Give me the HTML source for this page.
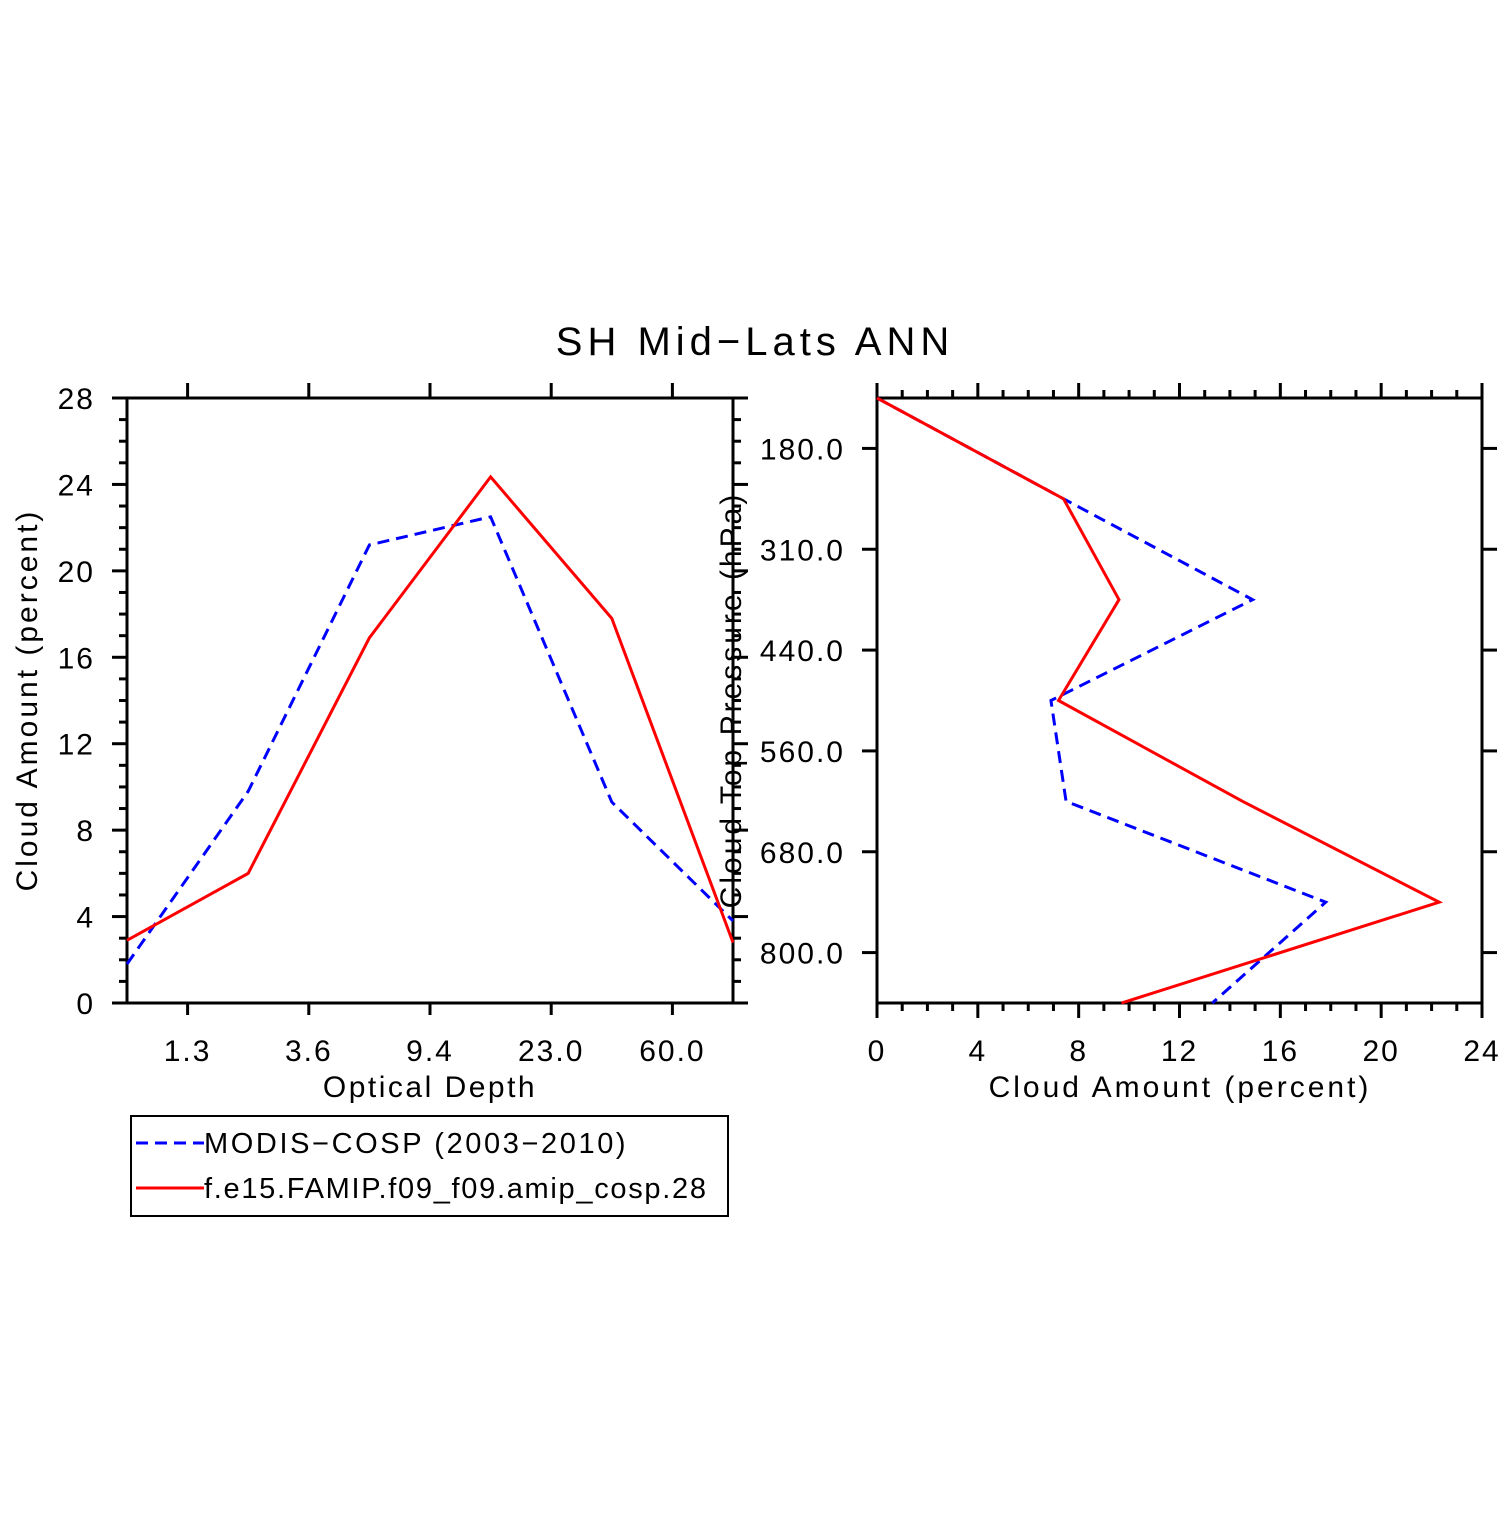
<!DOCTYPE html>
<html><head><meta charset="utf-8"><style>
html,body{margin:0;padding:0;background:#fff;}
svg text{font-family:"Liberation Sans",sans-serif;fill:#000;}
</style></head><body>
<svg id="chart" width="1510" height="1510" viewBox="0 0 1510 1510" xmlns="http://www.w3.org/2000/svg">
<text x="755" y="355" font-size="40" text-anchor="middle" letter-spacing="5">SH Mid−Lats ANN</text>
<g id="left"></g>
<g id="right"></g>
<g>
<rect x="131" y="1116" width="597" height="100" fill="none" stroke="#000" stroke-width="2"/>
<g>
<line x1="136" y1="1143" x2="204" y2="1143" stroke="#00f" stroke-width="3" stroke-dasharray="12,7"/>
<text x="204" y="1153" font-size="29" letter-spacing="2.6">MODIS−COSP (2003−2010)</text></g>
<g>
<line x1="136" y1="1188" x2="204" y2="1188" stroke="#f00" stroke-width="3"/>
<text x="204" y="1198" font-size="29" letter-spacing="1.7">f.e15.FAMIP.f09_f09.amip_cosp.28</text></g>
</g>
</svg>
<script>
// Left panel data (optical depth bins)
const tauTickLabels = ["1.3","3.6","9.4","23.0","60.0"];
const leftYTicks = [0,4,8,12,16,20,24,28];
const modisTau = [1.8, 9.8, 21.2, 22.5, 9.3, 3.8];
const modelTau = [2.9, 6.0, 16.9, 24.35, 17.8, 2.8];
// Right panel data (cloud top pressure levels)
const presTickLabels = ["180.0","310.0","440.0","560.0","680.0","800.0"];
const rightXTicks = [0,4,8,12,16,20,24];
const modisPres = [0, 7.4, 14.9, 6.9, 7.5, 17.8, 13.3];
const modelPres = [0, 7.4, 9.6, 7.2, 14.5, 22.3, 9.7];

const NS="http://www.w3.org/2000/svg";
function mk(parent,tag,attrs){const e=document.createElementNS(NS,tag);for(const k in attrs)e.setAttribute(k,attrs[k]);parent.appendChild(e);return e;}
function ln(p,x1,y1,x2,y2,w){return mk(p,'line',{x1,y1,x2,y2,stroke:'#000','stroke-width':w||3});}
const FS=30, LS=2;

// LEFT
const L=document.getElementById('left');
const lx0=127,lx1=733,ly0=1003,ly1=398;
const lX=i=>lx0+i*(lx1-lx0)/(modisTau.length-1);
const lY=v=>ly0-(v/28)*(ly0-ly1);
mk(L,'rect',{x:lx0,y:ly1,width:lx1-lx0,height:ly0-ly1,fill:'none',stroke:'#000','stroke-width':3});
for(let v=0;v<=28;v++){const y=lY(v);const major=v%4===0;ln(L,lx0-(major?15:8),y,lx0,y,3);ln(L,lx1,y,lx1+(major?15:8),y,3);}
leftYTicks.forEach(v=>{const t=mk(L,'text',{x:95,y:lY(v)+11,'font-size':FS,'text-anchor':'end','letter-spacing':LS});t.textContent=v;

});
tauTickLabels.forEach((s,i)=>{const x=lX(i+0.5);ln(L,x,ly1-15,x,ly1,3);ln(L,x,ly0,x,ly0+12,3);
const t=mk(L,'text',{x:x,y:1061,'font-size':FS,'text-anchor':'middle','letter-spacing':LS});t.textContent=s;

});
let t=mk(L,'text',{x:430,y:1097,'font-size':FS,'text-anchor':'middle','letter-spacing':2.5});t.textContent='Optical Depth';


t=mk(L,'text',{x:0,y:0,'font-size':FS,'text-anchor':'middle','letter-spacing':3,transform:'translate(37,700) rotate(-90)'});t.textContent='Cloud Amount (percent)';


let p=mk(L,'polyline',{points:modisTau.map((v,i)=>lX(i)+','+lY(v)).join(' '),fill:'none',stroke:'#00f','stroke-width':3,'stroke-dasharray':'12,7'});


p=mk(L,'polyline',{points:modelTau.map((v,i)=>lX(i)+','+lY(v)).join(' '),fill:'none',stroke:'#f00','stroke-width':3});



// RIGHT
const R=document.getElementById('right');
const rx0=877,rx1=1482,ry0=398,ry1=1003;
const rX=v=>rx0+(v/24)*(rx1-rx0);
const rY=i=>ry0+i*(ry1-ry0)/(modisPres.length-1);
mk(R,'rect',{x:rx0,y:ry0,width:rx1-rx0,height:ry1-ry0,fill:'none',stroke:'#000','stroke-width':3});
ln(R,rx0,ry1,rx0,ry1+15,3);
for(let v=0;v<=24;v++){const x=rX(v);const major=v%4===0;ln(R,x,ry1,x,ry1+(major?15:8),3);ln(R,x,ry0-(major?15:8),x,ry0,3);}
rightXTicks.forEach(v=>{const t=mk(R,'text',{x:rX(v),y:1061,'font-size':FS,'text-anchor':'middle','letter-spacing':LS});t.textContent=v;

});
presTickLabels.forEach((s,i)=>{const y=rY(i+0.5);ln(R,rx0-15,y,rx0,y,3);ln(R,rx1,y,rx1+15,y,3);
const t=mk(R,'text',{x:845,y:y+11,'font-size':FS,'text-anchor':'end','letter-spacing':LS});t.textContent=s;

});
t=mk(R,'text',{x:1180,y:1097,'font-size':FS,'text-anchor':'middle','letter-spacing':3});t.textContent='Cloud Amount (percent)';


t=mk(R,'text',{x:0,y:0,'font-size':FS,'text-anchor':'middle','letter-spacing':3,transform:'translate(741,700) rotate(-90)'});t.textContent='Cloud Top Pressure (hPa)';


p=mk(R,'polyline',{points:modisPres.map((v,i)=>rX(v)+','+rY(i)).join(' '),fill:'none',stroke:'#00f','stroke-width':3,'stroke-dasharray':'12,7'});


p=mk(R,'polyline',{points:modelPres.map((v,i)=>rX(v)+','+rY(i)).join(' '),fill:'none',stroke:'#f00','stroke-width':3});


</script>
</body></html>
